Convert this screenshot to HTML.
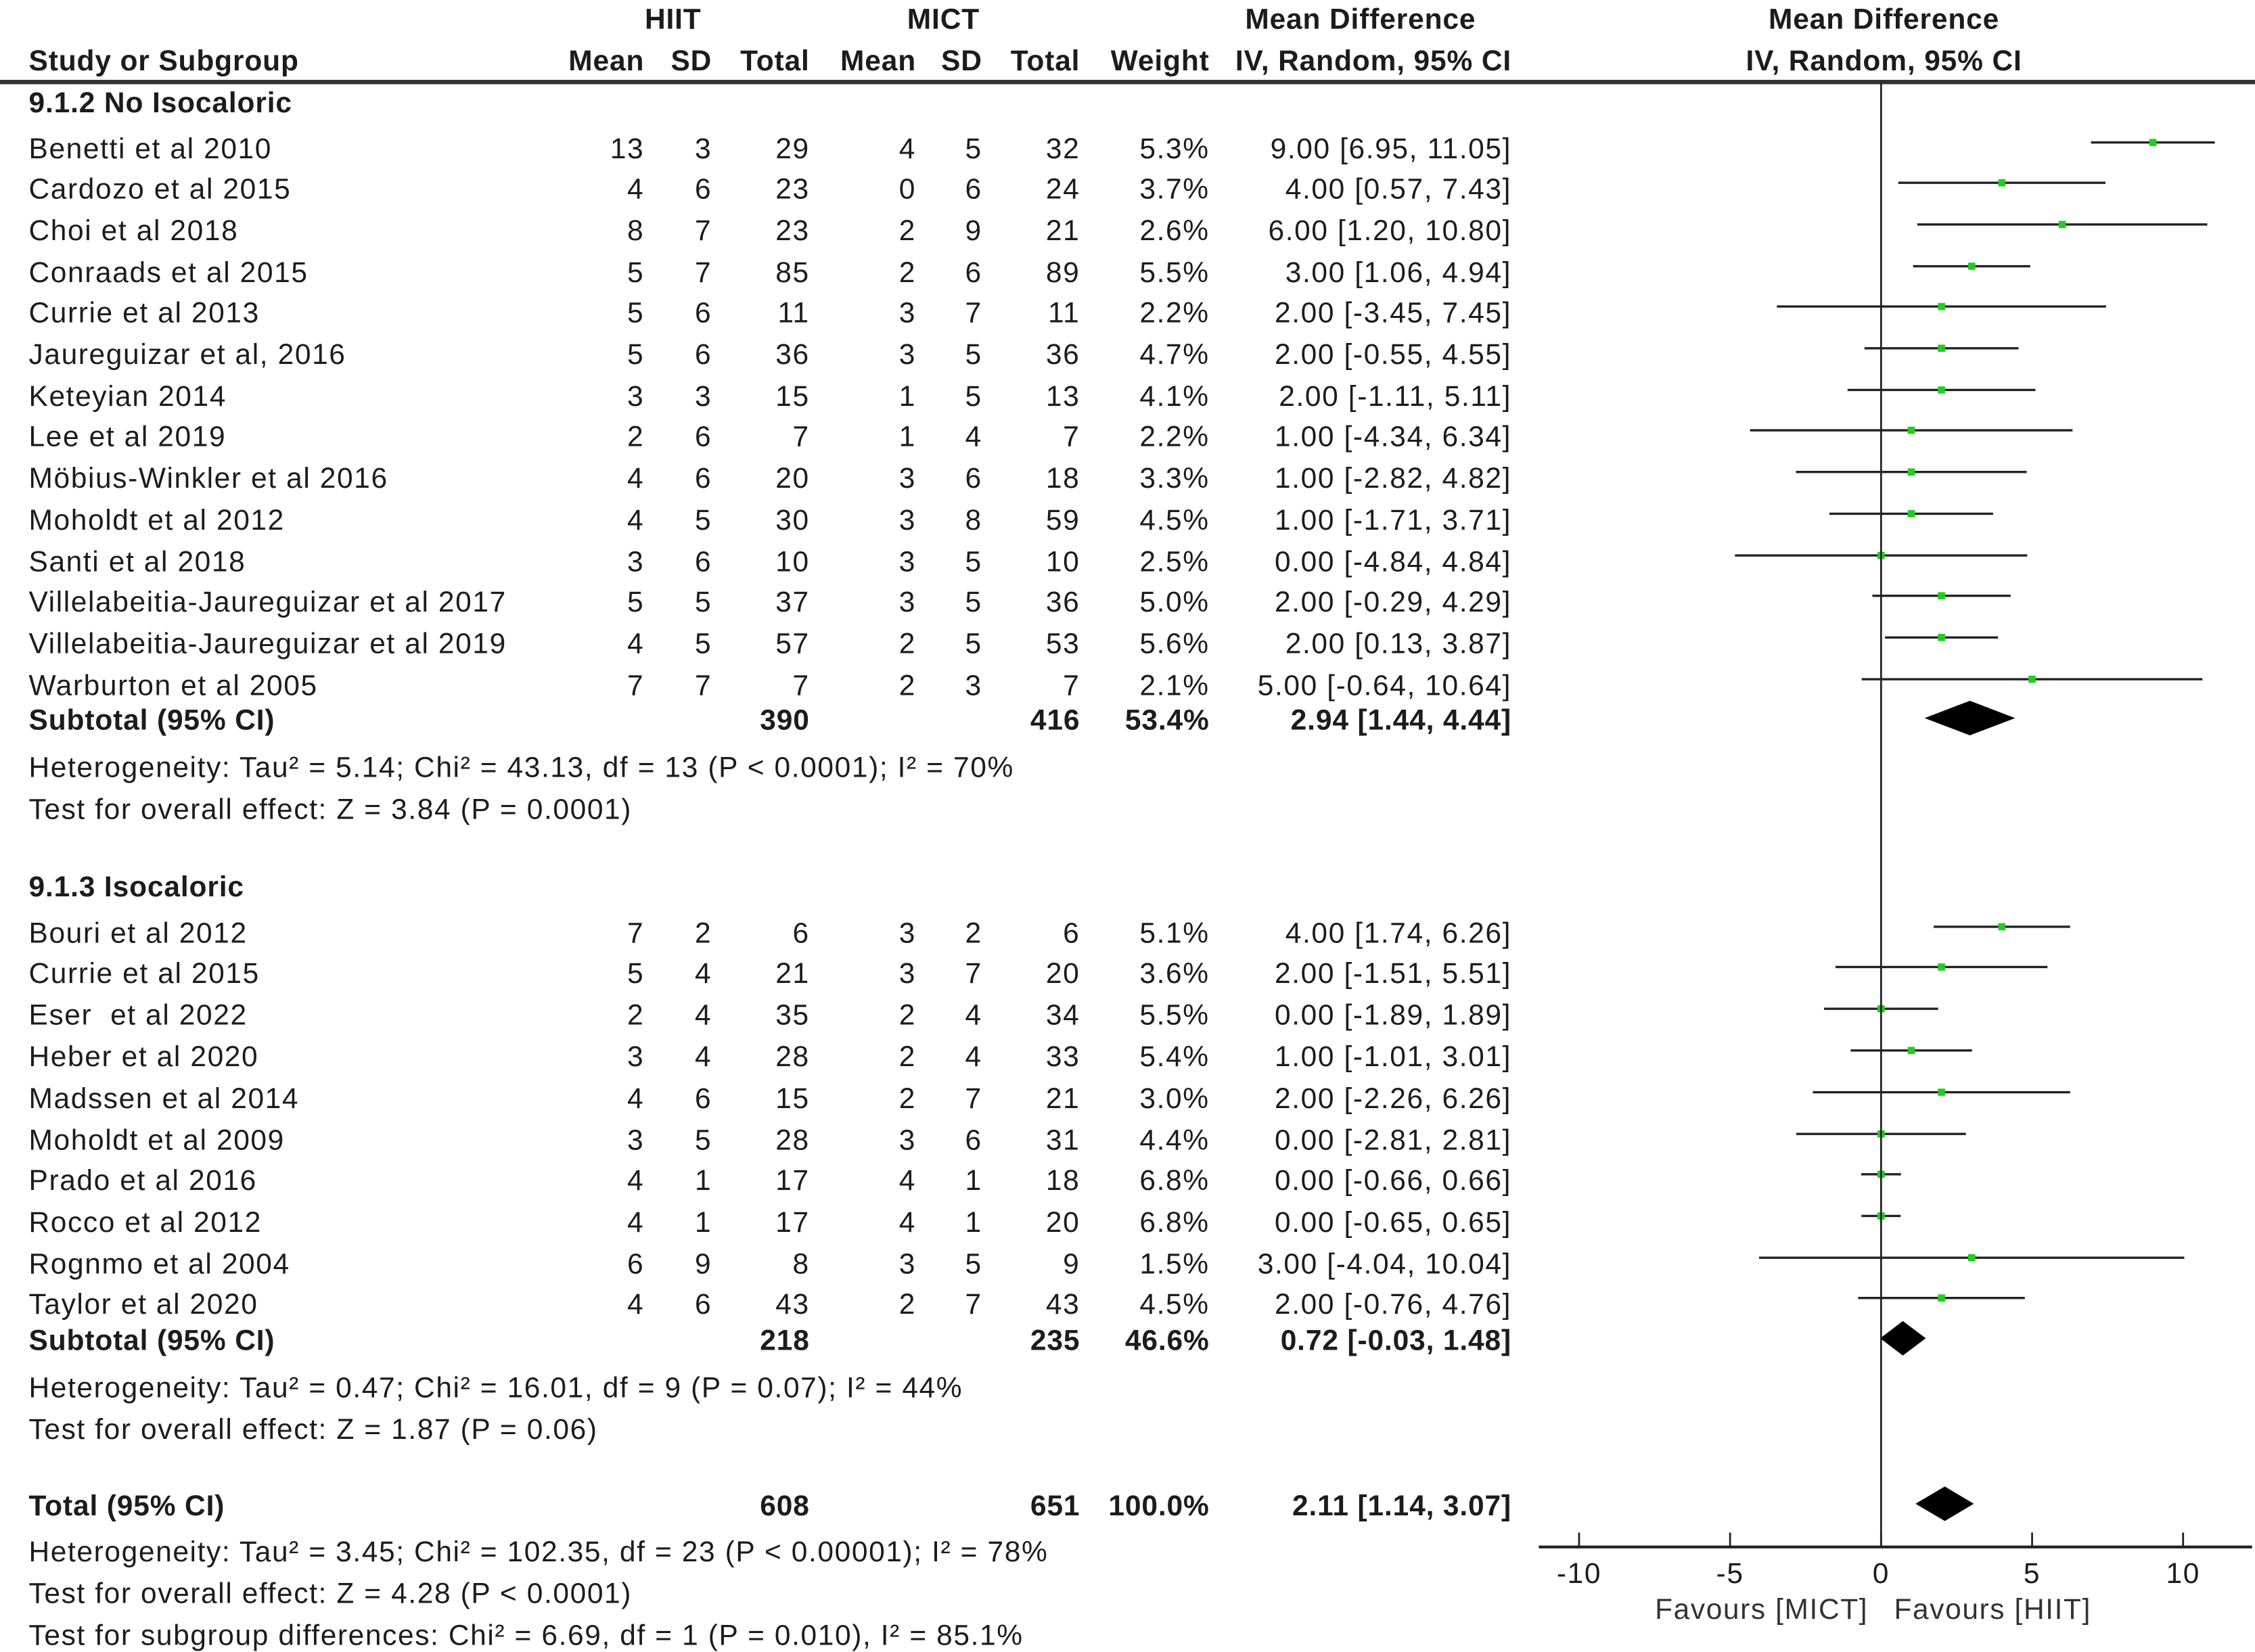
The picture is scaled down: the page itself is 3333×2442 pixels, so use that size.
<!DOCTYPE html>
<html><head><meta charset="utf-8"><style>
html,body{margin:0;padding:0;background:#fff;}
svg{display:block;}
text{font-family:"Liberation Sans",Arial,sans-serif;font-size:20px;fill:#1c1c1c;letter-spacing:0.75px;white-space:pre;}
.b{font-weight:bold;letter-spacing:0.4px;}
</style></head><body>
<svg id="plot" width="3333" height="2442" viewBox="0 0 1568 1148" preserveAspectRatio="none" xmlns="http://www.w3.org/2000/svg">
<g>
<text class="b" x="468" y="20" text-anchor="middle">HIIT</text>
<text class="b" x="656" y="20" text-anchor="middle">MICT</text>
<text class="b" x="946" y="20" text-anchor="middle">Mean Difference</text>
<text class="b" x="1310" y="20" text-anchor="middle">Mean Difference</text>
<text class="b" x="20" y="49">Study or Subgroup</text>
<text class="b" x="448" y="49" text-anchor="end">Mean</text>
<text class="b" x="495" y="49" text-anchor="end">SD</text>
<text class="b" x="563" y="49" text-anchor="end">Total</text>
<text class="b" x="637" y="49" text-anchor="end">Mean</text>
<text class="b" x="683" y="49" text-anchor="end">SD</text>
<text class="b" x="751" y="49" text-anchor="end">Total</text>
<text class="b" x="841" y="49" text-anchor="end">Weight</text>
<text class="b" x="1051" y="49" text-anchor="end">IV, Random, 95% CI</text>
<text class="b" x="1310" y="49" text-anchor="middle">IV, Random, 95% CI</text>
<line x1="0" y1="57" x2="1568" y2="57" stroke="#333" stroke-width="3"/>
</g>
<g id="rows"></g>
<g id="axis"></g>
</svg>
<script>
const studies=["Benetti et al 2010","Cardozo et al 2015","Choi et al 2018","Conraads et al 2015","Currie et al 2013","Jaureguizar et al, 2016","Keteyian 2014","Lee et al 2019","Möbius-Winkler et al 2016","Moholdt et al 2012","Santi et al 2018","Villelabeitia-Jaureguizar et al 2017","Villelabeitia-Jaureguizar et al 2019","Warburton et al 2005","Bouri et al 2012","Currie et al 2015","Eser  et al 2022","Heber et al 2020","Madssen et al 2014","Moholdt et al 2009","Prado et al 2016","Rocco et al 2012","Rognmo et al 2004","Taylor et al 2020"];
const hMean=[13,4,8,5,5,5,3,2,4,4,3,5,4,7,7,5,2,3,4,3,4,4,6,4];
const hSD=[3,6,7,7,6,6,3,6,6,5,6,5,5,7,2,4,4,4,6,5,1,1,9,6];
const hN=[29,23,23,85,11,36,15,7,20,30,10,37,57,7,6,21,35,28,15,28,17,17,8,43];
const mMean=[4,0,2,2,3,3,1,1,3,3,3,3,2,2,3,3,2,2,2,3,4,4,3,2];
const mSD=[5,6,9,6,7,5,5,4,6,8,5,5,5,3,2,7,4,4,7,6,1,1,5,7];
const mN=[32,24,21,89,11,36,13,7,18,59,10,36,53,7,6,20,34,33,21,31,18,20,9,43];
const weight=["5.3%","3.7%","2.6%","5.5%","2.2%","4.7%","4.1%","2.2%","3.3%","4.5%","2.5%","5.0%","5.6%","2.1%","5.1%","3.6%","5.5%","5.4%","3.0%","4.4%","6.8%","6.8%","1.5%","4.5%"];
const md=[9,4,6,3,2,2,2,1,1,1,0,2,2,5,4,2,0,1,2,0,0,0,3,2];
const lo=[6.95,0.57,1.20,1.06,-3.45,-0.55,-1.11,-4.34,-2.82,-1.71,-4.84,-0.29,0.13,-0.64,1.74,-1.51,-1.89,-1.01,-2.26,-2.81,-0.66,-0.65,-4.04,-0.76];
const hi=[11.05,7.43,10.80,4.94,7.45,4.55,5.11,6.34,4.82,3.71,4.84,4.29,3.87,10.64,6.26,5.51,1.89,3.01,6.26,2.81,0.66,0.65,10.04,4.76];
const rowY=[103,131,160,189,217,246,275,303,332,361,390,418,447,476,648,676,705,734,763,792,820,849,878,906];
const sumLabels=["Subtotal (95% CI)","Subtotal (95% CI)","Total (95% CI)"];
const sumHN=[390,218,608], sumMN=[416,235,651], sumW=["53.4%","46.6%","100.0%"];
const sumMD=[2.94,0.72,2.11], sumLo=[1.44,-0.03,1.14], sumHi=[4.44,1.48,3.07];
const sumY=[500,931,1046];
const ticks=[-10,-5,0,5,10];
const NS="http://www.w3.org/2000/svg";
const x=v=>1308+v*21;
const rows=document.getElementById('rows'), axis=document.getElementById('axis');
function mk(tag,attrs,parent,txt){const e=document.createElementNS(NS,tag);for(const k in attrs)e.setAttribute(k,attrs[k]);if(txt!==undefined)e.textContent=txt;parent.appendChild(e);return e;}
const f2=v=>v.toFixed(2);
function cols(y,vals,bold,g){const xs=[448,495,563,637,683,751,841,1051];vals.forEach((v,i)=>{if(v==="")return;const t=mk('text',{x:xs[i],y:y+7,'text-anchor':'end'},g,v);if(bold)t.setAttribute('class','b');});}
[["9.1.2 No Isocaloric",78],["9.1.3 Isocaloric",623]].forEach(s=>{const t=mk('text',{x:20,y:s[1],class:'b'},rows,s[0]);});
studies.forEach((s,i)=>{
 const g=mk('g',{},rows);
 
 
 const y=rowY[i];
 mk('text',{x:20,y:y+7},g,s);
 cols(y,[hMean[i],hSD[i],hN[i],mMean[i],mSD[i],mN[i],weight[i],f2(md[i])+" ["+f2(lo[i])+", "+f2(hi[i])+"]"],false,g);
 const l=mk('line',{x1:x(lo[i]),x2:x(hi[i]),y1:y-4,y2:y-4,stroke:'#222','stroke-width':1.6},g);
 
 
 const r=mk('rect',{x:x(md[i])-2.5,y:y-6.5,width:5,height:5,fill:'#22cc22'},g);
 
 
});
sumLabels.forEach((s,i)=>{
 const g=mk('g',{},rows);
 
 
 const y=sumY[i];
 mk('text',{x:20,y:y+7,class:'b'},g,s);
 cols(y,["","",sumHN[i],"","",sumMN[i],sumW[i],f2(sumMD[i])+" ["+f2(sumLo[i])+", "+f2(sumHi[i])+"]"],true,g);
 const cy=y-1;
 const d=mk('polygon',{points:`${x(sumLo[i])},${cy} ${x(sumMD[i])},${cy-12} ${x(sumHi[i])},${cy} ${x(sumMD[i])},${cy+12}`,fill:'#000'},g);
 
 
});
[["Heterogeneity: Tau² = 5.14; Chi² = 43.13, df = 13 (P < 0.0001); I² = 70%",540],["Test for overall effect: Z = 3.84 (P = 0.0001)",569],["Heterogeneity: Tau² = 0.47; Chi² = 16.01, df = 9 (P = 0.07); I² = 44%",971],["Test for overall effect: Z = 1.87 (P = 0.06)",1000],["Heterogeneity: Tau² = 3.45; Chi² = 102.35, df = 23 (P < 0.00001); I² = 78%",1085],["Test for overall effect: Z = 4.28 (P < 0.0001)",1114],["Test for subgroup differences: Chi² = 6.69, df = 1 (P = 0.010), I² = 85.1%",1143]].forEach(s=>{const t=mk('text',{x:20,y:s[1]},rows,s[0]);});
const zl=mk('line',{x1:x(0),x2:x(0),y1:57,y2:1075,stroke:'#222','stroke-width':1.3},axis);


mk('line',{x1:1070,x2:1566,y1:1075,y2:1075,stroke:'#222','stroke-width':2},axis);
ticks.forEach(t=>{
 mk('line',{x1:x(t),x2:x(t),y1:1065,y2:1075,stroke:'#222','stroke-width':1.3},axis);
 const tl=mk('text',{x:x(t),y:1100,'text-anchor':'middle'},axis,String(t));
 
 
});
const fa=mk('text',{x:1299,y:1125,'text-anchor':'end',style:'fill:#333'},axis,"Favours [MICT]");


const fb=mk('text',{x:1317,y:1125,style:'fill:#333'},axis,"Favours [HIIT]");


</script>
</body></html>
